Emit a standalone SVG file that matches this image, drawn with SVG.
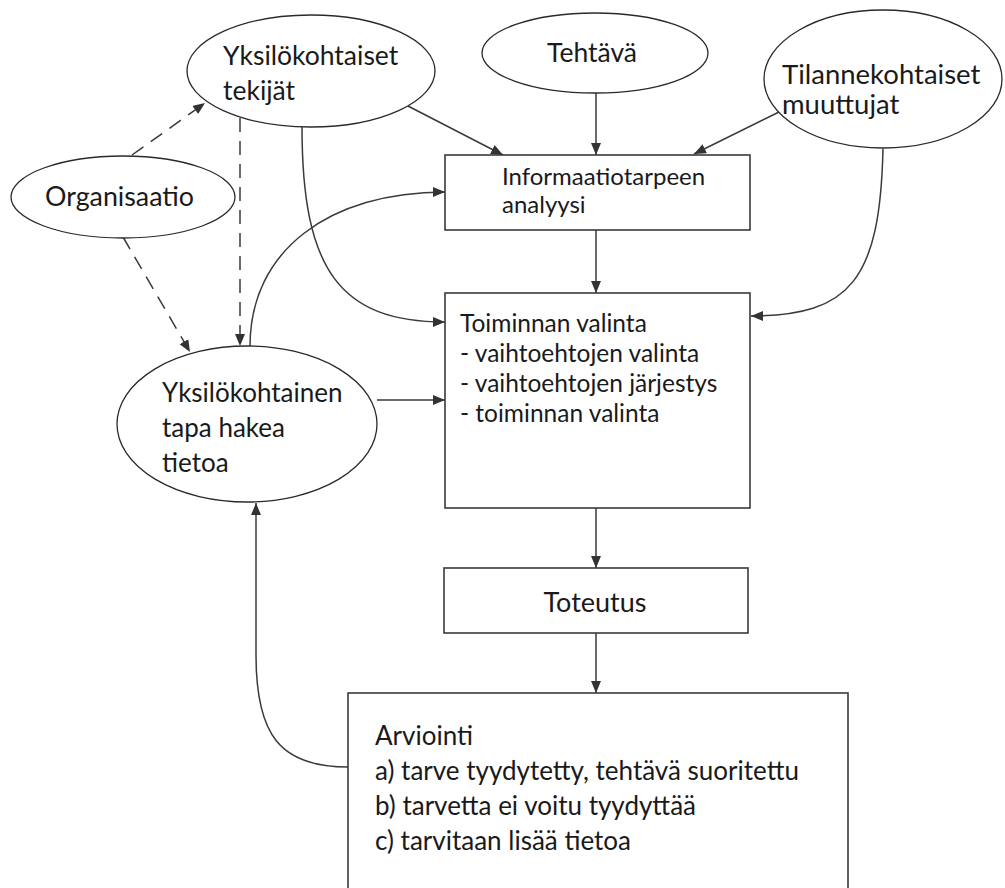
<svg xmlns="http://www.w3.org/2000/svg" width="1005" height="888" viewBox="0 0 1005 888">
<style>
  .bg { fill: #ffffff; }
  .shape { fill: #ffffff; stroke: #2a2a2a; stroke-width: 1.3; }
  .box { fill: #ffffff; stroke: #3a3a3a; stroke-width: 1.6; }
  .t { font-family: Lato, "Liberation Sans", sans-serif; fill: #1a1a1a; }
  .e { font-size: 26.5px; }
  .c { stroke: #3a3a3a; stroke-width: 1.5; fill: none; }
  .d { stroke: #3a3a3a; stroke-width: 1.5; fill: none; stroke-dasharray: 14 9; }
</style>
<defs>
  <marker id="ah" viewBox="0 0 12 10" refX="12" refY="5" markerWidth="12" markerHeight="10" markerUnits="userSpaceOnUse" orient="auto">
    <path d="M0,0 L12,5 L0,10 z" fill="#333333"/>
  </marker>
</defs>
<rect class="bg" x="0" y="0" width="1005" height="888"/>

<g id="connectors">
  <path class="c" d="M596,93 L596,155" marker-end="url(#ah)"/>
  <path class="c" d="M408,106 L503,155" marker-end="url(#ah)"/>
  <path class="c" d="M779,112 L694,154" marker-end="url(#ah)"/>
  <path class="c" d="M596,230 L596,293" marker-end="url(#ah)"/>
  <path class="c" d="M302,127 C302,270 340,322 445,322" marker-end="url(#ah)"/>
  <path class="c" d="M883,149 C880,280 850,316 751,316" marker-end="url(#ah)"/>
  <path class="c" d="M250,346 C250,250 330,192 445,192" marker-end="url(#ah)"/>
  <path class="c" d="M377,400 L445,400" marker-end="url(#ah)"/>
  <path class="c" d="M596,508 L596,568" marker-end="url(#ah)"/>
  <path class="c" d="M596,633 L596,693" marker-end="url(#ah)"/>
  <path class="c" d="M348,767 C280,767 256,735 256,655 L256,503" marker-end="url(#ah)"/>
  <path class="d" d="M132,155 L205,103" marker-end="url(#ah)"/>
  <path class="d" d="M123,237 L190,352" marker-end="url(#ah)"/>
  <path class="d" d="M240,118 L240,346" marker-end="url(#ah)"/>
</g>

<g id="yksilokohtaiset-tekijat">
  <ellipse class="shape" cx="311" cy="71" rx="124" ry="56"/>
  <text class="t e" x="223" y="65">Yksilökohtaiset</text>
  <text class="t e" x="223" y="100">tekijät</text>
</g>

<g id="tehtava">
  <ellipse class="shape" cx="595" cy="53" rx="113" ry="40"/>
  <text class="t e" x="592" y="62" text-anchor="middle">Tehtävä</text>
</g>

<g id="tilannekohtaiset-muuttujat">
  <ellipse class="shape" cx="883" cy="79" rx="119" ry="69"/>
  <text class="t" x="782" y="84" font-size="27.5">Tilannekohtaiset</text>
  <text class="t" x="782" y="114" font-size="27.5">muuttujat</text>
</g>

<g id="organisaatio">
  <ellipse class="shape" cx="123" cy="197" rx="112" ry="41"/>
  <text class="t" x="45" y="206" font-size="26.8">Organisaatio</text>
</g>

<g id="informaatiotarpeen-analyysi">
  <rect class="box" x="445" y="155" width="305" height="75"/>
  <text class="t" x="502" y="185" font-size="24">Informaatiotarpeen</text>
  <text class="t" x="502" y="213" font-size="24">analyysi</text>
</g>

<g id="toiminnan-valinta">
  <rect class="box" x="445" y="293" width="305" height="215"/>
  <text class="t" x="460" y="332" font-size="24.5">Toiminnan valinta</text>
  <text class="t" x="460" y="362" font-size="24.5">- vaihtoehtojen valinta</text>
  <text class="t" x="460" y="392" font-size="24.5">- vaihtoehtojen järjestys</text>
  <text class="t" x="460" y="422" font-size="24.5">- toiminnan valinta</text>
</g>

<g id="yksilokohtainen-tapa">
  <ellipse class="shape" cx="247" cy="424" rx="130" ry="78"/>
  <text class="t" x="162" y="402" font-size="26">Yksilökohtainen</text>
  <text class="t" x="162" y="437" font-size="26">tapa hakea</text>
  <text class="t" x="162" y="472" font-size="26">tietoa</text>
</g>

<g id="toteutus">
  <rect class="box" x="444" y="568" width="304" height="65"/>
  <text class="t" x="595" y="612" font-size="27" text-anchor="middle">Toteutus</text>
</g>

<g id="arviointi">
  <rect class="box" x="348" y="693" width="500" height="220"/>
  <text class="t" x="375" y="745" font-size="26">Arviointi</text>
  <text class="t" x="375" y="780" font-size="26">a) tarve tyydytetty, tehtävä suoritettu</text>
  <text class="t" x="375" y="815" font-size="26">b) tarvetta ei voitu tyydyttää</text>
  <text class="t" x="375" y="850" font-size="26">c) tarvitaan lisää tietoa</text>
</g>
</svg>
